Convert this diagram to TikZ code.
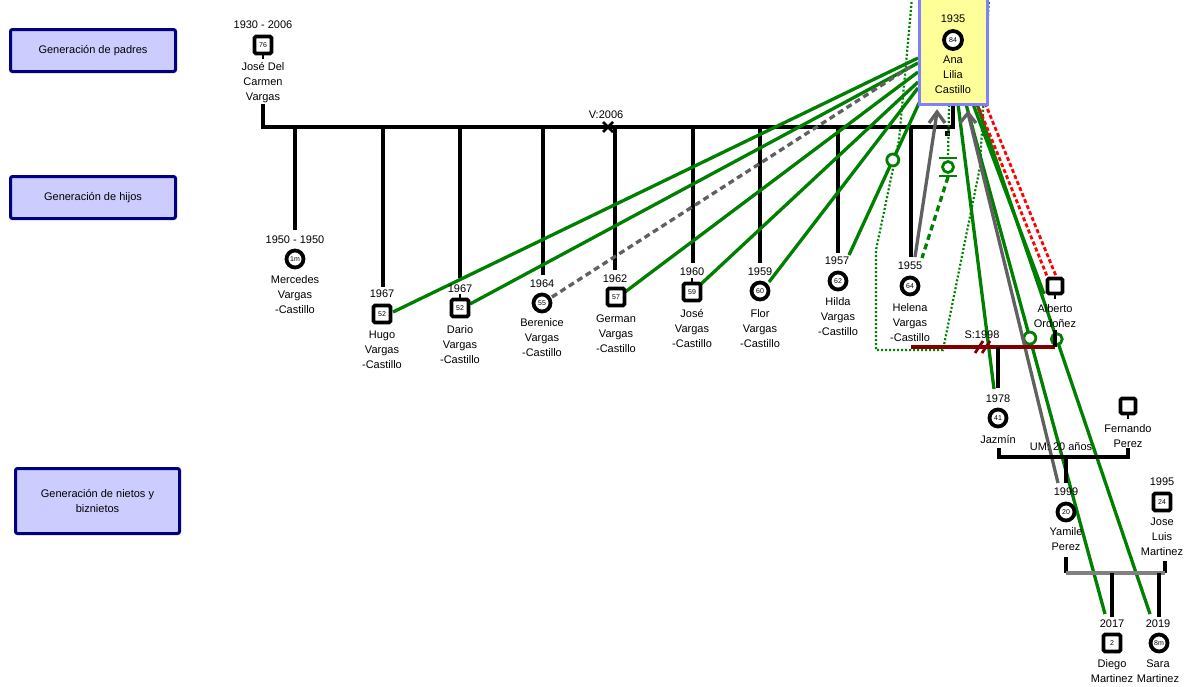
\documentclass[tikz,border=0pt]{standalone}
\usepackage{fontspec}
\setmainfont{Liberation Sans}
\usetikzlibrary{calc}
\definecolor{genfill}{RGB}{204,204,255}
\definecolor{genborder}{RGB}{0,0,128}
\definecolor{anafill}{RGB}{255,255,153}
\definecolor{anaborder}{RGB}{128,128,255}
\definecolor{relgreen}{RGB}{0,128,0}
\definecolor{relgrey}{RGB}{96,96,96}
\definecolor{uniongrey}{RGB}{128,128,128}
\definecolor{sepred}{RGB}{128,0,0}
\begin{document}
\begin{tikzpicture}[x=1pt,y=-1pt,
  lbl/.style={font=\fontsize{11}{15}\selectfont, align=center, inner sep=0pt, anchor=base},
  agef/.style={font=\fontsize{7}{7}\selectfont},
  male/.style={draw, line width=3.8pt, rectangle, minimum size=17pt, inner sep=0pt, fill=white, rounded corners=1.5pt, agef},
  female/.style={draw, line width=3.8pt, circle, minimum size=17pt, inner sep=0pt, fill=white, agef},
  genbox/.style={draw=genborder, fill=genfill, line width=3pt, rounded corners=2pt, font=\fontsize{11}{15}\selectfont, align=center, inner sep=0pt},
  famline/.style={draw=black, line width=3.3pt},
  rel/.style={draw=relgreen, line width=3.3pt},
  relcirc/.style={draw=relgreen, line width=2.8pt, circle, minimum size=12pt, inner sep=0pt, fill=white},
  greyrel/.style={draw=relgrey, line width=3.3pt},
  stub/.style={draw=black, line width=2.8pt}
]
\useasboundingbox (0,0) rectangle (1185,686);

% generation boxes
\node[genbox, minimum width=165pt, minimum height=42pt] (gpadres) at (93,50.5) {Generación de padres};
\node[genbox, minimum width=165pt, minimum height=42pt] (ghijos) at (93,197.5) {Generación de hijos};
\node[genbox, minimum width=164pt, minimum height=65pt] (gnietos) at (97.5,501) {Generación de nietos y\\biznietos};

% ---------- coordinates ----------
\coordinate (jpB) at (263,104);
\coordinate (mL) at (263,127);
\coordinate (mR) at (953,127);
\coordinate (anaB) at (953,104);

% anchors of relationship lines
\coordinate (hugoA) at (918,58);   \coordinate (hugoC) at (393,312);
\coordinate (darioA) at (918,63);  \coordinate (darioC) at (470,304);
\coordinate (berenA) at (910,67);  \coordinate (berenC) at (552,297);
\coordinate (germanA) at (918,72); \coordinate (germanC) at (625,292);
\coordinate (josejA) at (918,82);  \coordinate (josejC) at (701,284);
\coordinate (florA) at (918,88);   \coordinate (florC) at (769,282);
\coordinate (hildaA) at (920,101); \coordinate (hildaC) at (849,255);
\coordinate (jazA) at (958,104);   \coordinate (jazC) at (994,389);
\coordinate (diegoA) at (966,104); \coordinate (diegoC) at (1105,614);
\coordinate (albA) at (973,104);   \coordinate (albC) at (1044,294);
\coordinate (saraA) at (977,104);  \coordinate (saraC) at (1150,614);

% green dotted household boundary
\draw[draw=relgreen, line width=2.2pt, dash pattern=on 2pt off 2pt]
  (912,-2) -- (899,140) -- (876,250) -- (876,350) -- (943,350) -- (980,167) -- (989,-2);

% marriage line and children
\draw[famline] (jpB) -- (mL) -- (mR) -- (anaB);
\foreach \x/\y/\n in {295/230/merc,383/287/hugo,460/278/dario,543/275/beren,615/270/german,693/263/josej,760/263/flor,838/253/hilda,911/257/helena}{
  \coordinate (\n T) at (\x,127);
  \coordinate (\n B) at (\x,\y);
  \draw[famline] (\n T) -- (\n B);
}
\fill (944.5,130.5) rectangle (949.5,135.5);
% divorce cross
\coordinate (vx) at (608,127);
\draw[line width=2.8pt] ($(vx)+(-5,-5)$) -- ($(vx)+(5,5)$) ($(vx)+(-5,5)$) -- ($(vx)+(5,-5)$);
\node[lbl] (vlab) at (606,118) {V:2006};

% green relationship lines
\draw[rel] (hugoC) -- (hugoA);
\draw[rel] (darioC) -- (darioA);
\draw[greyrel, dash pattern=on 6pt off 4pt] (berenC) -- (berenA);
\draw[rel] (germanC) -- (germanA);
\draw[rel] (josejC) -- (josejA);
\draw[rel] (florC) -- (florA);
\draw[rel] (hildaC) -- (hildaA);
\node[relcirc] (hildacirc) at ($(hildaC)!0.617!(hildaA)$) {};
\draw[rel] (jazA) -- (jazC);
\draw[rel] (diegoA) -- (diegoC);
\node[relcirc] (diegocirc) at ($(diegoA)!0.459!(diegoC)$) {};
\draw[rel] (albA) -- (albC);
\draw[rel] (saraA) -- (saraC);
\node[relcirc, minimum size=11pt] (saracirc) at ($(saraA)!0.461!(saraC)$) {};

% red dashed hostile lines Ana - Alberto
\draw[draw=red, line width=2.8pt, dash pattern=on 4pt off 2.5pt] (977,103) -- (1047,276);
\draw[draw=red, line width=2.8pt, dash pattern=on 4pt off 2.5pt] (985,103) -- (1056,276);

% grey chevron lines
\coordinate (chevL) at (937,112);
\coordinate (helT) at (915,257);
\draw[greyrel] (helT) -- (chevL);
\draw[greyrel] (929,123) -- (chevL) -- (945,123);
\coordinate (chevR) at (968,113);
\coordinate (yamT) at (1058,483);
\draw[greyrel] (chevR) -- (yamT);
\draw[greyrel] (960,123) -- (chevR) -- (976,123);

% green hourglass symbol Helena - Ana
\coordinate (hgTop) at (948,158);
\coordinate (hgBot) at (948,177);
\draw[draw=relgreen, line width=2.2pt, dash pattern=on 2pt off 2pt] (949,105) -- (hgTop);
\draw[draw=relgreen, line width=2.8pt] (939,158) -- (957,158) (939,176) -- (957,176);
\draw[draw=relgreen, line width=2.8pt] (948,167) circle (5.5pt);
\draw[draw=relgreen, line width=3.3pt, dash pattern=on 6pt off 4pt] (hgBot) -- (922,258);

% Helena - Alberto union (separated)
\coordinate (sL) at (911,347);
\coordinate (sR) at (1055,347);
\draw[draw=sepred, line width=3.3pt] (sL) -- (sR);
\draw[draw=sepred, line width=2.8pt] (975,353) -- (983,341) (982,353) -- (990,341);
\node[lbl] (slab) at (982,338) {S:1998};
\draw[famline] (1055,330) -- (sR);
\coordinate (jazU) at (998,347);
\coordinate (jazTop) at (998,388);
\draw[famline] (jazU) -- (jazTop);

% Jazmin - Fernando union
\draw[famline] (999,448) -- (999,457) -- (1128,457) -- (1128,448);
\node[lbl] (umlab) at (1061,450) {UM: 20 años};
\draw[famline] (1066,457) -- (1066,483);

% Yamile - Jose Luis union
\draw[famline] (1066,557) -- (1066,573);
\draw[famline] (1165,561) -- (1165,573);
\draw[draw=uniongrey, line width=3.3pt] (1066,573) -- (1165,573);
\draw[famline] (1112,573) -- (1112,617);
\draw[famline] (1159,573) -- (1159,617);

% Ana Lilia box
\draw[draw=anaborder, fill=anafill, line width=3pt] (919,-5) rectangle (987,104);

% ---------- persons (name nodes anchored at baseline of last line) ----------
\node[male] (josep) at (263,45) {76};
\draw[stub] (josep.south) -- ++(0,4);
\node[lbl] (josepY) at (263,28) {1930 - 2006};
\node[lbl] (josepN) at (263,100) {José Del\\Carmen\\Vargas};

\node[female, minimum size=18pt] (ana) at (953,40) {84};
\node[lbl] (anaY) at (953,22) {1935};
\node[lbl] (anaN) at (953,93) {Ana\\Lilia\\Castillo};

\node[female] (merc) at (295,259) {1m};
\node[lbl] (mercY) at (295,243) {1950 - 1950};
\node[lbl] (mercN) at (295,313) {Mercedes\\Vargas\\-Castillo};

\node[male] (hugo) at (382,314) {52};
\node[lbl] (hugoY) at (382,297) {1967};
\node[lbl] (hugoN) at (382,368) {Hugo\\Vargas\\-Castillo};

\node[male] (dario) at (460,308) {52};
\draw[stub] (dario.north) -- ++(0,-4);
\node[lbl] (darioY) at (460,292) {1967};
\node[lbl] (darioN) at (460,363) {Dario\\Vargas\\-Castillo};

\node[female] (beren) at (542,303) {55};
\node[lbl] (berenY) at (542,287) {1964};
\node[lbl] (berenN) at (542,356) {Berenice\\Vargas\\-Castillo};

\node[male] (german) at (616,297) {57};
\node[lbl] (germanY) at (615,282) {1962};
\node[lbl] (germanN) at (616,352) {German\\Vargas\\-Castillo};

\node[male] (josej) at (692,292) {59};
\draw[stub] (josej.north) -- ++(0,-4);
\node[lbl] (josejY) at (692,275) {1960};
\node[lbl] (josejN) at (692,347) {José\\Vargas\\-Castillo};

\node[female] (flor) at (760,291) {60};
\node[lbl] (florY) at (760,275) {1959};
\node[lbl] (florN) at (760,347) {Flor\\Vargas\\-Castillo};

\node[female] (hilda) at (838,281) {62};
\node[lbl] (hildaY) at (837,264) {1957};
\node[lbl] (hildaN) at (838,335) {Hilda\\Vargas\\-Castillo};

\node[female] (helena) at (910,286) {64};
\node[lbl] (helenaY) at (910,269) {1955};
\node[lbl] (helenaN) at (910,341) {Helena\\Vargas\\-Castillo};

\node[male, minimum size=15pt] (alberto) at (1055,286) {};
\draw[stub] (alberto.south) -- ++(0,4);
\node[lbl] (albertoN) at (1055,327) {Alberto\\Ordoñez};

\node[female] (jazmin) at (998,418) {41};
\node[lbl] (jazminY) at (998,402) {1978};
\node[lbl] (jazminN) at (998,443) {Jazmín};

\node[male, minimum size=15pt] (fernando) at (1128,406) {};
\draw[stub] (fernando.south) -- ++(0,4);
\node[lbl] (fernandoN) at (1128,447) {Fernando\\Perez};

\node[female] (yamile) at (1066,512) {20};
\node[lbl] (yamileY) at (1066,495) {1999};
\node[lbl] (yamileN) at (1066,550) {Yamile\\Perez};

\node[male] (joseluis) at (1162,502) {24};
\node[lbl] (joseluisY) at (1162,485) {1995};
\node[lbl] (joseluisN) at (1162,555) {Jose\\Luis\\Martinez};

\node[male] (diego) at (1112,643) {2};
\node[lbl] (diegoY) at (1112,627) {2017};
\node[lbl] (diegoN) at (1112,682) {Diego\\Martinez};

\node[female] (sara) at (1159,643) {8m};
\node[lbl] (saraY) at (1158,627) {2019};
\node[lbl] (saraN) at (1158,682) {Sara\\Martinez};
\end{tikzpicture}
\end{document}
